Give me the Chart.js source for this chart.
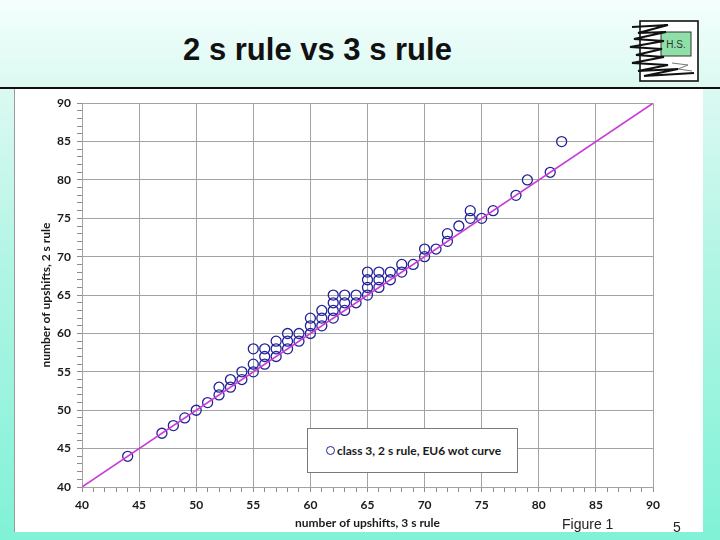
<!DOCTYPE html>
<html>
<head>
<meta charset="utf-8">
<script src="https://cdn.jsdelivr.net/npm/chart.js@4"></script>
<style>
    html, body {
        margin: 0;
        padding: 0;
    }
    body {
        width: 720px;
        height: 540px;
        position: relative;
        overflow: hidden;
        background: linear-gradient(to bottom, #f4fffd 0%, #dcf9f2 16%, #b0f5e4 50%, #80f2d6 100%);
        font-family: "Liberation Sans", Arial, sans-serif;
    }
    #title {
        position: absolute;
        left: 100px;
        width: 435px;
        top: 30px;
        text-align: center;
        font-size: 31px;
        font-weight: bold;
        line-height: 40px;
        color: #111;
    }
    #rule {
        position: absolute;
        left: 0;
        top: 87px;
        width: 720px;
        height: 2px;
        background: #111;
    }
    #panel {
        position: absolute;
        left: 14px;
        top: 89px;
        width: 689px;
        height: 443px;
        background: #fff;
        border-left: 1px solid #9a9a9a;
        box-sizing: border-box;
    }
    #chartCanvas {
        position: absolute;
        left: 15px;
        top: 90px;
    }
    #legendBox {
        position: absolute;
        left: 307px;
        top: 428px;
        width: 211px;
        height: 45px;
        box-sizing: border-box;
        border: 1px solid #7a7a7a;
        background: #fff;
        font-family: Lato, "Open Sans", sans-serif;
        font-weight: bold;
        font-size: 12px;
        color: #1a1a1a;
    }
    #legendBox .marker {
        position: absolute;
        left: 18px;
        top: 17px;
        width: 7px;
        height: 7px;
        border: 1.4px solid #22229a;
        border-radius: 50%;
    }
    #legendBox .label {
        position: absolute;
        left: 29px;
        top: 14px;
        white-space: nowrap;
    }
    .foot {
        position: absolute;
        font-size: 14px;
        color: #222;
    }
    #logo {
        position: absolute;
        left: 628px;
        top: 19px;
    }
</style>
</head>
<body>
<div id="title">2 s rule vs 3 s rule</div>
<svg id="logo" width="74" height="66" viewBox="0 0 74 66">
    <rect x="12" y="2" width="58" height="60" fill="#fff" stroke="#111" stroke-width="1.6"/>
    <rect x="33" y="13" width="30" height="24" fill="#8fe0a8" stroke="#333" stroke-width="1"/>
    <text x="48" y="29" font-family="Liberation Sans, sans-serif" font-size="10" text-anchor="middle" fill="#333">H.S.</text>
    <polyline points="4,8 40,6 10,14 38,13 6,20 36,22 2,28 34,30 8,36 36,38 4,44 40,46 10,52 50,50 16,57 66,54"
              fill="none" stroke="#111" stroke-width="2"/>
    <polyline points="44,44 60,46 50,50 64,52" fill="none" stroke="#777" stroke-width="1"/>
</svg>
<div id="rule"></div>
<div id="panel"></div>
<canvas id="chartCanvas" width="688" height="441" style="width:688px;height:441px;"></canvas>
<div id="legendBox"><span class="marker"></span><span class="label">class 3, 2 s rule, EU6 wot curve</span></div>
<div class="foot" style="left:562px; top:516px;">Figure 1</div>
<div class="foot" style="left:673px; top:519px;">5</div>

<script>
// number of upshifts with the 3 s rule (x) and the 2 s rule (y)
const upshifts3s = [
    44, 47, 48, 49, 50, 51, 52, 52, 53, 53, 54, 54,
    55, 55, 55, 56, 56, 56, 57, 57, 57, 58, 58, 58, 59, 59,
    60, 60, 60, 61, 61, 61, 62, 62, 62, 62, 63, 63, 63, 64, 64,
    65, 65, 65, 65, 66, 66, 66, 67, 67, 68, 68, 69,
    70, 70, 71, 72, 72, 73, 74, 74, 75, 76, 78, 79, 81, 82
];
const upshifts2s = [
    44, 47, 48, 49, 50, 51, 52, 53, 53, 54, 54, 55,
    55, 56, 58, 56, 57, 58, 57, 58, 59, 58, 59, 60, 59, 60,
    60, 61, 62, 61, 62, 63, 62, 63, 64, 65, 63, 64, 65, 64, 65,
    65, 66, 67, 68, 66, 67, 68, 67, 68, 68, 69, 69,
    70, 71, 71, 72, 73, 74, 75, 76, 75, 76, 78, 80, 81, 85
];

// 1:1 reference line
const diagX = [40, 90];
const diagY = [40, 90];

const axisMin = 40;
const axisMax = 90;

const pointColor = '#22229a';
const lineColor = '#c93bd6';
const gridColor = '#a3a3a3';
const tickMarkColor = '#8c8c8c';
const labelColor = '#1a1a1a';

const scatterPoints = upshifts3s.map((x, i) => ({ x: x, y: upshifts2s[i] }));
const diagPoints = diagX.map((x, i) => ({ x: x, y: diagY[i] }));

function majorOnly(ctx) {
    return ctx.tick && ctx.tick.value % 5 === 0 ? gridColor : 'rgba(0,0,0,0)';
}

function axisOptions(titleText, isX) {
    return {
        type: 'linear',
        min: axisMin,
        max: axisMax,
        grid: {
            color: majorOnly,
            tickColor: tickMarkColor,
            lineWidth: 1,
            drawTicks: true,
            tickLength: 5
        },
        border: { display: true, color: gridColor },
        ticks: {
            stepSize: 1,
            autoSkip: false,
            maxRotation: 0,
            padding: 6,
            color: labelColor,
            font: { family: 'Lato', weight: 'bold', size: 12 },
            callback: function(value) {
                return value % 5 === 0 ? String(value) : '';
            }
        },
        title: {
            display: true,
            text: titleText,
            color: labelColor,
            font: { family: 'Lato', weight: 'bold', size: 12 },
            padding: isX ? { top: 0, bottom: 1 } : { top: 4, bottom: 0 }
        },
        afterFit: function(scale) {
            if (isX) scale.height = 44;
            else scale.width = 47;
        }
    };
}

const ctx = document.getElementById('chartCanvas').getContext('2d');

new Chart(ctx, {
    type: 'scatter',
    data: {
        datasets: [
            {
                type: 'line',
                label: '1:1',
                data: diagPoints,
                borderColor: lineColor,
                borderWidth: 1.6,
                pointRadius: 0,
                fill: false
            },
            {
                label: 'class 3, 2 s rule, EU6 wot curve',
                data: scatterPoints,
                pointStyle: 'circle',
                pointRadius: 5,
                borderWidth: 1.3,
                borderColor: pointColor,
                backgroundColor: 'rgba(0,0,0,0)'
            }
        ]
    },
    options: {
        responsive: false,
        devicePixelRatio: 1,
        animation: false,
        layout: {
            padding: { left: 20, top: 13, right: 50, bottom: 0 }
        },
        plugins: {
            legend: { display: false },
            tooltip: { enabled: false }
        },
        scales: {
            x: axisOptions('number of upshifts, 3 s rule', true),
            y: axisOptions('number of upshifts, 2 s rule', false)
        }
    }
});
</script>
</body>
</html>
